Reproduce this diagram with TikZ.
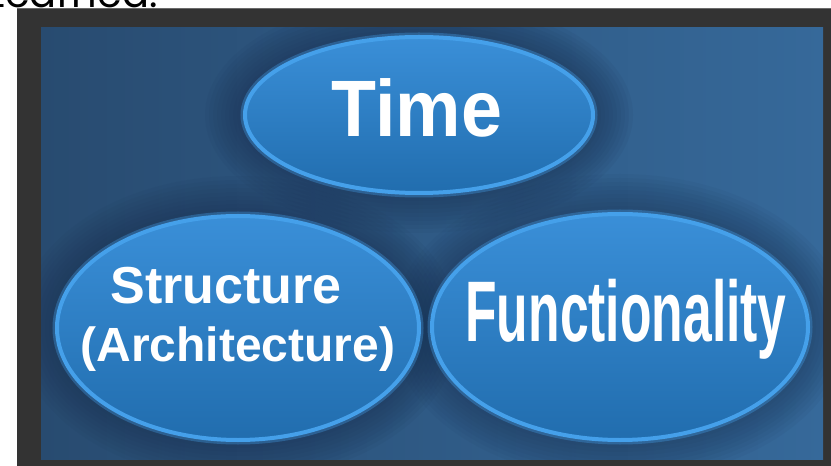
\documentclass[tikz,border=0pt]{standalone}
\usepackage{fontspec}
\setmainfont{Liberation Sans}
\newfontfamily\popfont{Poppins}
\usetikzlibrary{shapes.geometric}
\definecolor{framegray}{HTML}{333333}
\definecolor{frameline}{HTML}{6A6A6A}
\definecolor{panelL}{HTML}{284B70}
\definecolor{panelR}{HTML}{36699A}
\definecolor{halo}{HTML}{1A3253}
\definecolor{blobtop}{HTML}{3A8FD8}
\definecolor{blobbot}{HTML}{216DAE}
\definecolor{blobrim}{HTML}{45A0EA}
\begin{document}
\begin{tikzpicture}[x=1bp,y=-1bp,
  blob/.style={ellipse, inner sep=0pt, top color=blobtop, bottom color=blobbot,
    draw=blobrim, line width=4bp,
    preaction={draw=blobrim, line width=9bp, draw opacity=0.35}},
  lbl/.style={text=white, inner sep=0pt, anchor=base}]
\useasboundingbox (0,0) rectangle (831,466);
\begin{scope}
  \clip (0,0) rectangle (831,466);
  \node[anchor=base east, inner sep=0pt, font=\popfont\fontsize{40bp}{48bp}\selectfont] (title) at (158,7.5) {Learned.};
\end{scope}
% frame and panel
\fill[framegray] (17,8.5) rectangle (831,466);
\draw[frameline, line width=0.8bp] (17,8.5) -- (831,8.5);
\shade[left color=panelL, right color=panelR] (41,28) rectangle (823,459);
% dark halos behind the ellipses
\begin{scope}
  \clip (41,28) rectangle (823,459);
  \foreach \k in {1,...,10}{
    \fill[halo, opacity=0.07] (419,115) ellipse [x radius={174+4*\k}, y radius={78+4*\k}];
    \fill[halo, opacity=0.07] (238,328) ellipse [x radius={181+4*\k}, y radius={112+4*\k}];
    \fill[halo, opacity=0.06] (620,327) ellipse [x radius={188+4*\k}, y radius={113+4*\k}];
  }
\end{scope}
% ellipses
\node[blob, minimum width=348bp, minimum height=156bp] (time) at (419,115) {};
\node[blob, minimum width=362bp, minimum height=224bp] (struct) at (238,328) {};
\node[blob, minimum width=376bp, minimum height=226bp] (func) at (620,327) {};
% labels
\node[lbl, font=\bfseries\fontsize{80bp}{96bp}\selectfont] (timet) at (417,137) {\scalebox{0.92}[1]{Time}};
\node[lbl, font=\bfseries\fontsize{52bp}{60bp}\selectfont] (structa) at (226,304) {Structure};
\node[lbl, font=\bfseries\fontsize{48bp}{58bp}\selectfont] (structb) at (238,362) {(Architecture)};
\node[lbl, font=\bfseries\fontsize{86bp}{100bp}\selectfont] (funct) at (626,342) {\scalebox{0.6}[1]{Functionality}};
\end{tikzpicture}
\end{document}
